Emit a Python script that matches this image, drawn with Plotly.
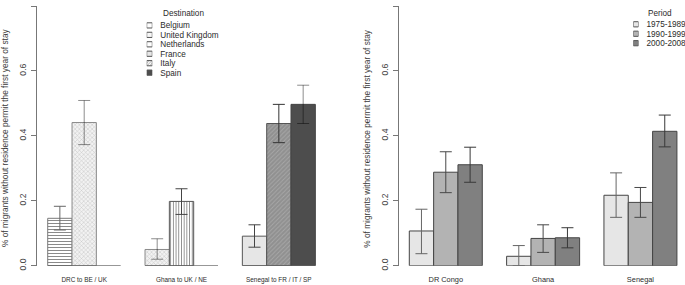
import plotly.graph_objects as go

# ---------------- data ----------------
left_groups = ["DRC to BE / UK", "Ghana to UK / NE", "Senegal to FR / IT / SP"]
destinations = ["Belgium", "United Kingdom", "Netherlands", "France", "Italy", "Spain"]
left_bar_group = [0, 0, 1, 1, 2, 2, 2]
left_bar_slot = [0, 1, 0, 1, 0, 1, 2]
left_bar_dest = ["Belgium", "United Kingdom", "United Kingdom", "Netherlands", "France", "Italy", "Spain"]
left_values = [0.146, 0.441, 0.050, 0.198, 0.091, 0.438, 0.497]
left_lower = [0.110, 0.373, 0.020, 0.158, 0.057, 0.379, 0.438]
left_upper = [0.183, 0.509, 0.083, 0.237, 0.126, 0.497, 0.556]

right_groups = ["DR Congo", "Ghana", "Senegal"]
periods = ["1975-1989", "1990-1999", "2000-2008"]
p1975_values = [0.107, 0.029, 0.217]
p1975_lower = [0.037, 0.000, 0.149]
p1975_upper = [0.174, 0.062, 0.286]
p1990_values = [0.288, 0.084, 0.195]
p1990_lower = [0.225, 0.041, 0.149]
p1990_upper = [0.351, 0.126, 0.241]
p2000_values = [0.311, 0.086, 0.414]
p2000_lower = [0.257, 0.055, 0.366]
p2000_upper = [0.365, 0.117, 0.464]

y_ticks = [0.0, 0.2, 0.4, 0.6, 0.8]
y_title = "% of migrants without residence permit the first year of stay"

# ---------------- styles ----------------
W, H = 685, 285
FONT = "Liberation Sans, Arial, Helvetica, sans-serif"
dest_style = {
    "Belgium": dict(color="white", shape="-", fg="#8a8a8a", bg="white", size=3, sol=0.35, line="#7a7a7a", err="#666666"),
    "United Kingdom": dict(color="#e6e6e6", shape="x", fg="#c4c4c4", bg="#f2f2f2", size=3, sol=0.3, line="#8a8a8a", err="rgba(0,0,0,0.45)"),
    "Netherlands": dict(color="white", shape="|", fg="#8a8a8a", bg="white", size=2.7, sol=0.35, line="#555555", err="#444444"),
    "France": dict(color="#e6e6e6", shape="", fg=None, bg=None, size=3, sol=0.3, line="#555555", err="#444444"),
    "Italy": dict(color="#959595", shape="/", fg="#a8a8a8", bg="#909090", size=3, sol=0.3, line="#555555", err="#333333"),
    "Spain": dict(color="#4d4d4d", shape="", fg=None, bg=None, size=3, sol=0.3, line="#444444", err="rgba(0,0,0,0.45)"),
}
period_colors = ["#e6e6e6", "#b3b3b3", "#808080"]
period_err = ["#666666", "#484848", "#383838"]

PX_UNIT = 24.33
Y0_PX, Y8_PX = 265.7, 6.0
ydom = [(H - Y0_PX) / H, (H - Y8_PX) / H]
left_x1_px = 47.7
right_x1_px = 409.3
xl_range = [0.56, 12.44]
xl_dom = [(left_x1_px + (xl_range[0] - 1) * PX_UNIT) / W, (left_x1_px + (xl_range[1] - 1) * PX_UNIT) / W]
xr_range = [0.56, 1 + (W - right_x1_px) / PX_UNIT]
xr_dom = [(right_x1_px + (xr_range[0] - 1) * PX_UNIT) / W, 1.0]


def bar_center(g, s):
    return 1 + 4 * g + s + 0.5


def pattern_of(st):
    if st["shape"]:
        return dict(shape=st["shape"], fgcolor=st["fg"], bgcolor=st["bg"], size=st["size"],
                    solidity=st["sol"], fillmode="replace")
    return dict(shape="")


fig = go.Figure()

# ---------- left panel ----------
for d in destinations:
    idx = [i for i, dd in enumerate(left_bar_dest) if dd == d]
    st = dest_style[d]
    xs = [bar_center(left_bar_group[i], left_bar_slot[i]) for i in idx]
    vals = [left_values[i] for i in idx]
    fig.add_trace(go.Bar(
        x=xs, y=vals, width=1, name=d, showlegend=False,
        marker=dict(color=st["color"], line=dict(color=st["line"], width=1), pattern=pattern_of(st)),
        error_y=dict(type="data", symmetric=False,
                     array=[left_upper[i] - left_values[i] for i in idx],
                     arrayminus=[left_values[i] - left_lower[i] for i in idx],
                     color=st["err"], thickness=1, width=6),
        xaxis="x", yaxis="y"))

# baselines of each group (empty slots show as a flat line)
for g in range(len(left_groups)):
    fig.add_trace(go.Scatter(x=[1 + 4 * g, 4 + 4 * g], y=[0, 0], mode="lines",
                             line=dict(color="#555555", width=1), showlegend=False,
                             hoverinfo="skip", xaxis="x", yaxis="y"))

# ---------- right panel ----------
r_vals = [p1975_values, p1990_values, p2000_values]
r_lo = [p1975_lower, p1990_lower, p2000_lower]
r_hi = [p1975_upper, p1990_upper, p2000_upper]
for k, p in enumerate(periods):
    xs = [bar_center(g, k) for g in range(len(right_groups))]
    fig.add_trace(go.Bar(
        x=xs, y=r_vals[k], width=1, name=p, showlegend=False,
        marker=dict(color=period_colors[k], line=dict(color="#444444", width=1)),
        error_y=dict(type="data", symmetric=False,
                     array=[h - v for h, v in zip(r_hi[k], r_vals[k])],
                     arrayminus=[v - l for v, l in zip(r_vals[k], r_lo[k])],
                     color=period_err[k], thickness=1, width=6),
        xaxis="x2", yaxis="y2"))

# ---------- legend swatches (inset axes) ----------
fig.add_trace(go.Bar(
    y=destinations, x=[1] * len(destinations), orientation="h", width=0.55, showlegend=False,
    marker=dict(color=[dest_style[d]["color"] for d in destinations],
                line=dict(color="#555555", width=1),
                pattern=dict(shape=[dest_style[d]["shape"] for d in destinations],
                             fgcolor=[dest_style[d]["fg"] or dest_style[d]["color"] for d in destinations],
                             bgcolor=[dest_style[d]["bg"] or dest_style[d]["color"] for d in destinations],
                             size=2, solidity=0.4, fillmode="replace")),
    xaxis="x3", yaxis="y3", hoverinfo="skip"))
fig.add_trace(go.Bar(
    y=periods, x=[1] * len(periods), orientation="h", width=0.55, showlegend=False,
    marker=dict(color=period_colors, line=dict(color="#555555", width=1)),
    xaxis="x4", yaxis="y4", hoverinfo="skip"))

axis_font = dict(family=FONT, size=8.6, color="#444444")
yaxis_common = dict(range=[0, 0.8], domain=ydom, tickvals=y_ticks, tickformat=".1f", ticks="outside",
                    ticklen=4.5, tickcolor="#777777", showline=True, linecolor="#777777", linewidth=1,
                    showgrid=False, zeroline=False, tickangle=-90, tickfont=axis_font,
                    ticklabelstandoff=2, automargin=False)

# legend geometry
l_row0, r_row0, row_h = 25.4, 24.3, 9.45
l_top = l_row0 - row_h / 2
l_bot = l_row0 + row_h * (len(destinations) - 0.5)
r_top = r_row0 - row_h / 2
r_bot = r_row0 + row_h * (len(periods) - 0.5)
leg_font = dict(family=FONT, size=8.2, color="#2b2b2b")

fig.update_layout(
    template="none",
    width=W, height=H, margin=dict(l=0, r=0, t=0, b=0, autoexpand=False),
    paper_bgcolor="white", plot_bgcolor="white", barmode="overlay",
    font=dict(family=FONT, color="#333333"), showlegend=False,
    xaxis=dict(domain=xl_dom, range=xl_range, showline=False, showgrid=False, zeroline=False,
               tickmode="array", tickvals=[bar_center(g, 1) for g in range(3)], ticktext=left_groups,
               ticks="", tickfont=dict(family=FONT, size=6.4, color="#2b2b2b"), ticklabelstandoff=9,
               anchor="y", automargin=False),
    yaxis=dict(anchor="x", **yaxis_common),
    xaxis2=dict(domain=xr_dom, range=xr_range, showline=False, showgrid=False, zeroline=False,
                tickmode="array", tickvals=[bar_center(g, 1) for g in range(3)], ticktext=right_groups,
                ticks="", tickfont=dict(family=FONT, size=7.4, color="#2b2b2b"), ticklabelstandoff=8,
                anchor="y2", automargin=False),
    yaxis2=dict(anchor="x2", **yaxis_common),
    xaxis3=dict(domain=[146.7 / W, 152.3 / W], range=[0, 1], visible=False, anchor="y3", automargin=False),
    yaxis3=dict(domain=[(H - l_bot) / H, (H - l_top) / H], range=[len(destinations) - 0.5, -0.5],
                type="category", side="right", showgrid=False, showline=False, zeroline=False,
                tickmode="array", tickvals=destinations, ticktext=destinations,
                ticks="", tickfont=leg_font, ticklabelstandoff=7, anchor="x3", automargin=False),
    xaxis4=dict(domain=[633.3 / W, 638.5 / W], range=[0, 1], visible=False, anchor="y4", automargin=False),
    yaxis4=dict(domain=[(H - r_bot) / H, (H - r_top) / H], range=[len(periods) - 0.5, -0.5],
                type="category", side="right", showgrid=False, showline=False, zeroline=False,
                tickmode="array", tickvals=periods, ticktext=periods,
                ticks="", tickfont=leg_font, ticklabelstandoff=7, anchor="x4", automargin=False),
)

fig.add_annotation(text="Destination", x=161 / W, y=(H - 13) / H, xref="paper", yref="paper",
                   xanchor="left", yanchor="middle", showarrow=False, font=leg_font)
fig.add_annotation(text="Period", x=646 / W, y=(H - 13) / H, xref="paper", yref="paper",
                   xanchor="left", yanchor="middle", showarrow=False, font=leg_font)
for xpx in (5.0, 366.7):
    fig.add_annotation(text=y_title, x=xpx / W, y=(H - 138) / H, xref="paper", yref="paper",
                       xanchor="center", yanchor="middle", textangle=-90, showarrow=False,
                       font=dict(family=FONT, size=8.3, color="#3a3a3a"))

fig.write_html("out.html", config={"displayModeBar": False},
               post_script="document.body.style.margin='0';document.body.style.overflow='hidden';")
